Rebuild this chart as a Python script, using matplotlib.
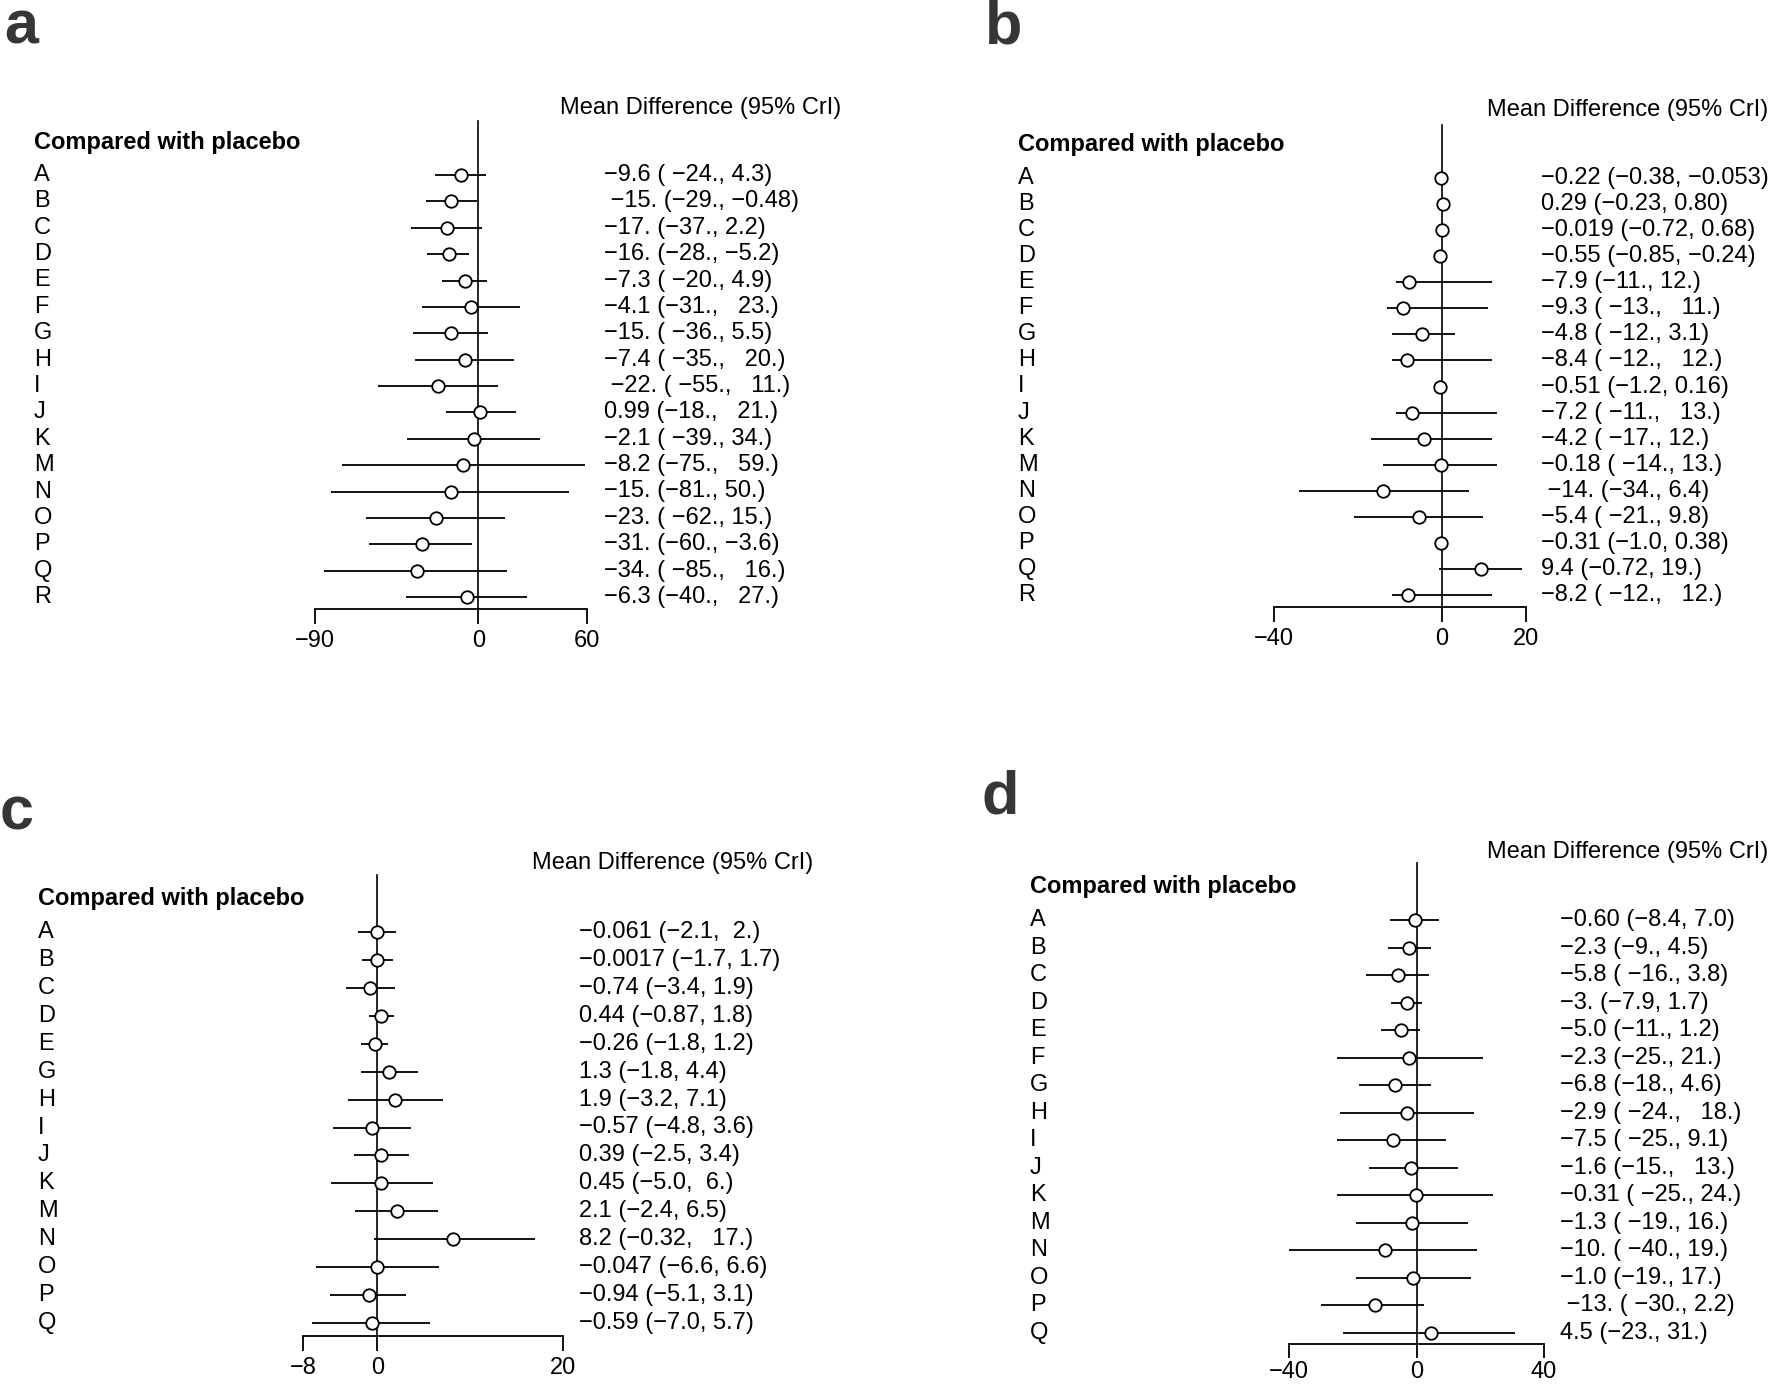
import matplotlib
matplotlib.use("Agg")
from matplotlib import pyplot as plt
from matplotlib import transforms

plt.rcParams['font.family'] = ['Liberation Sans Narrow', 'Liberation Sans', 'DejaVu Sans']

# ---- data -------------------------------------------------------------
cats_a = list("ABCDEFGHIJKMNOPQR")
mean_a = [-9.6, -15, -17, -16, -7.3, -4.1, -15, -7.4, -22, 0.99, -2.1, -8.2, -15, -23, -31, -34, -6.3]
low_a = [-24, -29, -37, -28, -20, -31, -36, -35, -55, -18, -39, -75, -81, -62, -60, -85, -40]
high_a = [4.3, -0.48, 2.2, -5.2, 4.9, 23, 5.5, 20, 11, 21, 34, 59, 50, 15, -3.6, 16, 27]
text_a = ["−9.6 ( −24., 4.3)", " −15. (−29., −0.48)", "−17. (−37., 2.2)", "−16. (−28., −5.2)",
          "−7.3 ( −20., 4.9)", "−4.1 (−31.,   23.)", "−15. ( −36., 5.5)", "−7.4 ( −35.,   20.)",
          " −22. ( −55.,   11.)", "0.99 (−18.,   21.)", "−2.1 ( −39., 34.)", "−8.2 (−75.,   59.)",
          "−15. (−81., 50.)", "−23. ( −62., 15.)", "−31. (−60., −3.6)", "−34. ( −85.,   16.)",
          "−6.3 (−40.,   27.)"]
ticks_a = [-90, 0, 60]

cats_b = list("ABCDEFGHIJKMNOPQR")
mean_b = [-0.22, 0.29, -0.019, -0.55, -7.9, -9.3, -4.8, -8.4, -0.51, -7.2, -4.2, -0.18, -14, -5.4, -0.31, 9.4, -8.2]
low_b = [-0.38, -0.23, -0.72, -0.85, -11, -13, -12, -12, -1.2, -11, -17, -14, -34, -21, -1.0, -0.72, -12]
high_b = [-0.053, 0.80, 0.68, -0.24, 12, 11, 3.1, 12, 0.16, 13, 12, 13, 6.4, 9.8, 0.38, 19, 12]
text_b = ["−0.22 (−0.38, −0.053)", "0.29 (−0.23, 0.80)", "−0.019 (−0.72, 0.68)", "−0.55 (−0.85, −0.24)",
          "−7.9 (−11., 12.)", "−9.3 ( −13.,   11.)", "−4.8 ( −12., 3.1)", "−8.4 ( −12.,   12.)",
          "−0.51 (−1.2, 0.16)", "−7.2 ( −11.,   13.)", "−4.2 ( −17., 12.)", "−0.18 ( −14., 13.)",
          " −14. (−34., 6.4)", "−5.4 ( −21., 9.8)", "−0.31 (−1.0, 0.38)", "9.4 (−0.72, 19.)",
          "−8.2 ( −12.,   12.)"]
ticks_b = [-40, 0, 20]

cats_c = list("ABCDEGHIJKMNOPQ")
mean_c = [-0.061, -0.0017, -0.74, 0.44, -0.26, 1.3, 1.9, -0.57, 0.39, 0.45, 2.1, 8.2, -0.047, -0.94, -0.59]
low_c = [-2.1, -1.7, -3.4, -0.87, -1.8, -1.8, -3.2, -4.8, -2.5, -5.0, -2.4, -0.32, -6.6, -5.1, -7.0]
high_c = [2.0, 1.7, 1.9, 1.8, 1.2, 4.4, 7.1, 3.6, 3.4, 6.0, 6.5, 17, 6.6, 3.1, 5.7]
text_c = ["−0.061 (−2.1,  2.)", "−0.0017 (−1.7, 1.7)", "−0.74 (−3.4, 1.9)", "0.44 (−0.87, 1.8)",
          "−0.26 (−1.8, 1.2)", "1.3 (−1.8, 4.4)", "1.9 (−3.2, 7.1)", "−0.57 (−4.8, 3.6)",
          "0.39 (−2.5, 3.4)", "0.45 (−5.0,  6.)", "2.1 (−2.4, 6.5)", "8.2 (−0.32,   17.)",
          "−0.047 (−6.6, 6.6)", "−0.94 (−5.1, 3.1)", "−0.59 (−7.0, 5.7)"]
ticks_c = [-8, 0, 20]

cats_d = list("ABCDEFGHIJKMNOPQ")
mean_d = [-0.60, -2.3, -5.8, -3, -5.0, -2.3, -6.8, -2.9, -7.5, -1.6, -0.31, -1.3, -10, -1.0, -13, 4.5]
low_d = [-8.4, -9, -16, -7.9, -11, -25, -18, -24, -25, -15, -25, -19, -40, -19, -30, -23]
high_d = [7.0, 4.5, 3.8, 1.7, 1.2, 21, 4.6, 18, 9.1, 13, 24, 16, 19, 17, 2.2, 31]
text_d = ["−0.60 (−8.4, 7.0)", "−2.3 (−9., 4.5)", "−5.8 ( −16., 3.8)", "−3. (−7.9, 1.7)",
          "−5.0 (−11., 1.2)", "−2.3 (−25., 21.)", "−6.8 (−18., 4.6)", "−2.9 ( −24.,   18.)",
          "−7.5 ( −25., 9.1)", "−1.6 (−15.,   13.)", "−0.31 ( −25., 24.)", "−1.3 ( −19., 16.)",
          "−10. ( −40., 19.)", "−1.0 (−19., 17.)", " −13. ( −30., 2.2)", "4.5 (−23., 31.)"]
ticks_d = [-40, 0, 40]

W, H = 1772, 1388
FS = 17
fig = plt.figure(figsize=(W / 100, H / 100), dpi=100)


def fx(px):
    return px / W


def fy(py):
    return 1 - py / H


def forest(letter, cats, mean, low, high, texts, ticks, lay):
    left, right, top, bottom = lay['axes']
    first, last = lay['rows']
    ax = fig.add_axes([fx(left), fy(bottom), fx(right - left), (bottom - top) / H])
    n = len(cats)
    sp = (last - first) / (n - 1)
    ax.set_xlim(ticks[0], ticks[-1])
    ax.set_ylim(n - 1 + (bottom - last) / sp, -(first - top) / sp)
    for s in ('top', 'left', 'right'):
        ax.spines[s].set_visible(False)
    ax.spines['bottom'].set_linewidth(1.3)
    ax.set_yticks([])
    ax.set_xticks(ticks)
    ax.tick_params(axis='x', length=lay.get('tick_len', 11), width=1.3,
                   pad=lay.get('pad', 4), labelsize=FS)
    ax.axvline(0, color='black', lw=1.2, clip_on=False)
    rows = list(range(n))
    ax.hlines(rows, low, high, color='black', lw=1.3, clip_on=False)
    ax.plot(mean, rows, 'o', ms=9, mfc='white', mec='black', mew=1.3, ls='none',
            clip_on=False, zorder=3)

    tr = transforms.blended_transform_factory(fig.transFigure, ax.transData)
    for i, c in enumerate(cats):
        ax.text(fx(lay['label_x']), i, c, transform=tr, ha='left', va='center', fontsize=FS)
        ax.text(fx(lay['value_x']), i, texts[i], transform=tr, ha='left', va='center', fontsize=FS)

    fig.text(fx(lay['label_x']), fy(lay['head_y']), 'Compared with placebo', fontsize=FS,
             fontweight='bold', ha='left', va='center')
    tx, ty, tha = lay['title']
    fig.text(fx(tx), fy(ty), 'Mean Difference (95% CrI)', fontsize=FS, ha=tha, va='center')
    lx, ly = lay['letter']
    fig.text(fx(lx), fy(ly), letter, fontsize=44, fontweight='bold', color='#363636',
             ha='left', va='baseline', family=['Liberation Sans', 'DejaVu Sans'])


forest('a', cats_a, mean_a, low_a, high_a, text_a, ticks_a,
       dict(axes=(315, 587, 121, 609), rows=(175, 597), label_x=34, value_x=604,
            head_y=143, title=(701, 108, 'center'), letter=(4, 44)))
forest('b', cats_b, mean_b, low_b, high_b, text_b, ticks_b,
       dict(axes=(1274, 1526, 125, 607), rows=(178, 595), label_x=1018, value_x=1541,
            head_y=145, title=(1768, 110, 'right'), letter=(985, 43)))
forest('c', cats_c, mean_c, low_c, high_c, text_c, ticks_c,
       dict(axes=(303, 563, 875, 1336), rows=(932, 1323), label_x=38, value_x=579,
            head_y=898, title=(673, 863, 'center'), letter=(0, 829)))
forest('d', cats_d, mean_d, low_d, high_d, text_d, ticks_d,
       dict(axes=(1289, 1544, 863, 1344), rows=(920, 1333), label_x=1030, value_x=1560,
            head_y=886, title=(1768, 852, 'right'), letter=(982, 813),
            tick_len=10, pad=2))

fig.savefig('out.png', dpi=100, facecolor='white')
